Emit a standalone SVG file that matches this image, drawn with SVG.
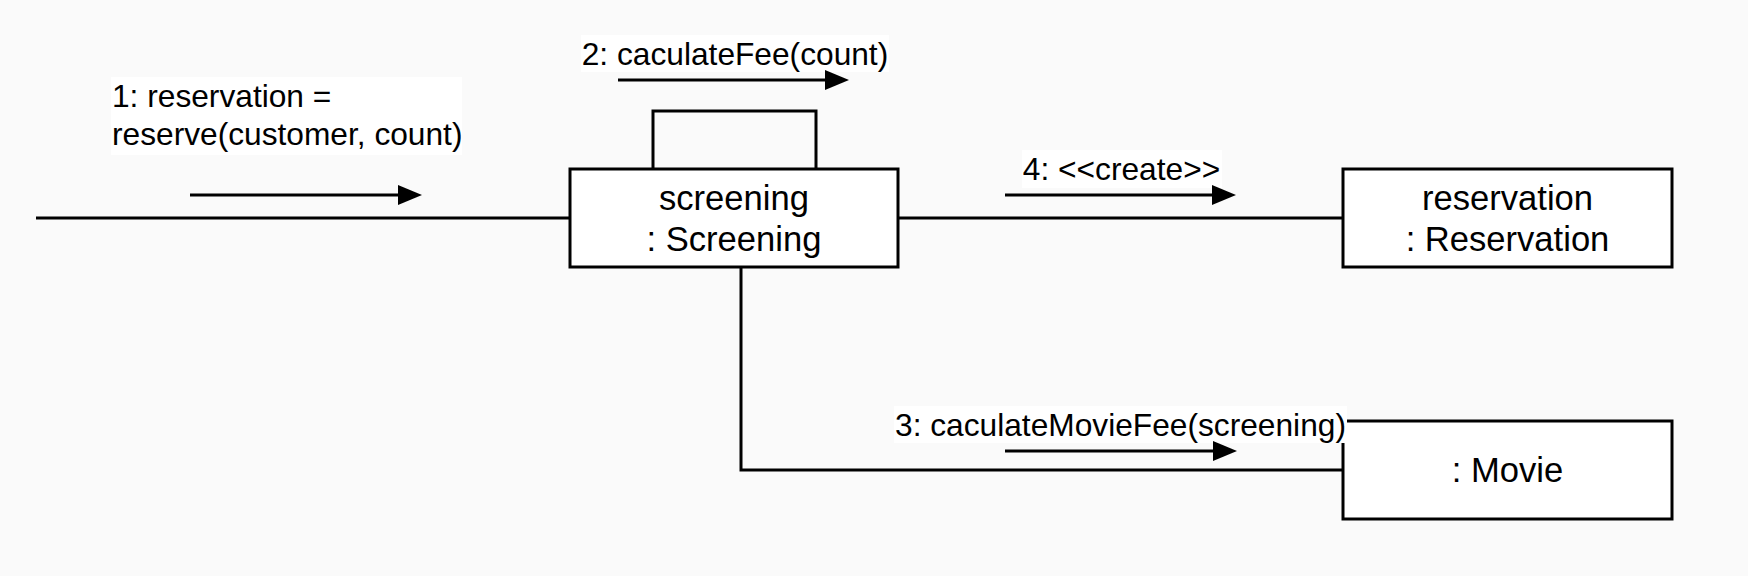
<svg xmlns="http://www.w3.org/2000/svg" width="1748" height="576" viewBox="0 0 1748 576">
  <style>
    .box { fill: #ffffff; stroke: #000000; stroke-width: 3; }
    .conn { fill: none; stroke: #000000; stroke-width: 3; }
    .msg { fill: none; stroke: #000000; stroke-width: 3; marker-end: url(#arrow); }
    .lblbg { fill: #ffffff; stroke: none; }
    .ntext { font-family: "Liberation Sans", Arial, Helvetica, sans-serif; font-size: 34.6px; fill: #000000; text-anchor: middle; }
    .ltext { font-family: "Liberation Sans", Arial, Helvetica, sans-serif; font-size: 31.7px; fill: #000000; }
  </style>
  <defs>
    <marker id="arrow" markerUnits="userSpaceOnUse" markerWidth="24" markerHeight="20" refX="4" refY="10" orient="auto">
      <path d="M0,0 L24,10 L0,20 Z" fill="#000000"/>
    </marker>
  </defs>
  <rect x="0" y="0" width="1748" height="576" fill="#fafafa"/>

  <g id="connectors">
    <path class="conn" d="M36,218 H570"/>
    <path class="conn" d="M898,218 H1343"/>
    <path class="conn" d="M741,267 V470 H1343"/>
    <path class="conn" d="M653,169 V111 H816 V169"/>
  </g>

  <g id="node-screening">
    <rect class="box" x="570" y="169" width="328" height="98"/>
    <text class="ntext" x="734" y="209.5">screening</text>
    <text class="ntext" x="734" y="250.5">: Screening</text>
  </g>

  <g id="node-reservation">
    <rect class="box" x="1343" y="169" width="329" height="98"/>
    <text class="ntext" x="1507.5" y="209.5">reservation</text>
    <text class="ntext" x="1507.5" y="250.5">: Reservation</text>
  </g>

  <g id="node-movie">
    <rect class="box" x="1343" y="421" width="329" height="98"/>
    <text class="ntext" x="1507.5" y="482">: Movie</text>
  </g>

  <g id="messages">
    <g id="msg1">
      <rect class="lblbg" x="111" y="77" width="351" height="78"/>
      <text class="ltext" x="112" y="107">1: reservation =</text>
      <text class="ltext" x="112" y="145">reserve(customer, count)</text>
      <path class="msg" d="M190,195 H402"/>
    </g>
    <g id="msg2">
      <rect class="lblbg" x="581" y="35" width="308" height="37"/>
      <text class="ltext" x="735" y="64.5" text-anchor="middle">2: caculateFee(count)</text>
      <path class="msg" d="M618,80 H829"/>
    </g>
    <g id="msg4">
      <rect class="lblbg" x="1022" y="150" width="200" height="38"/>
      <text class="ltext" x="1121.5" y="180" text-anchor="middle">4: &lt;&lt;create&gt;&gt;</text>
      <path class="msg" d="M1005,195 H1216"/>
    </g>
    <g id="msg3">
      <rect class="lblbg" x="894" y="406" width="453" height="37"/>
      <text class="ltext" x="1120.5" y="435.5" text-anchor="middle">3: caculateMovieFee(screening)</text>
      <path class="msg" d="M1005,451 H1217"/>
    </g>
  </g>
</svg>
